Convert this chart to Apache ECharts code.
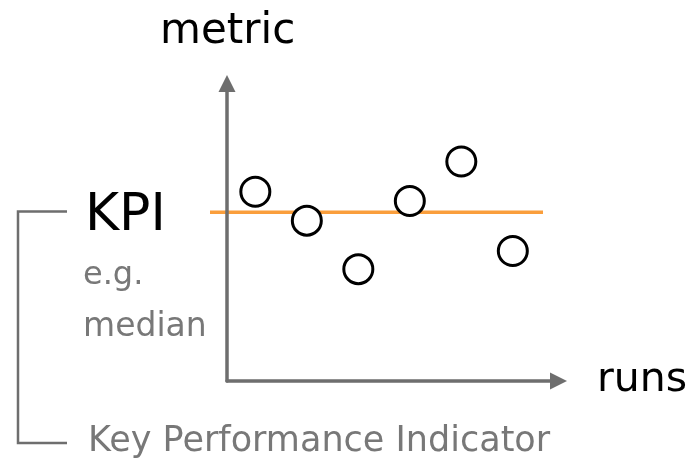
<!DOCTYPE html>
<html>
<head>
<meta charset="utf-8">
<script src="https://cdn.jsdelivr.net/npm/echarts@6/dist/echarts.min.js"></script>
<style>
  html, body { margin: 0; padding: 0; background: #fff; }
  #chart { width: 692px; height: 469px; }
</style>
</head>
<body>
<div id="chart"></div>
<script>
  // runs on x, metric on y (arbitrary units)
  var runs = [1, 2, 3, 4, 5, 6];
  var metric = [6.36, 5.39, 3.76, 6.05, 7.38, 4.37];
  var kpiValue = 5.67;

  var axisGray = '#6e6e6e';
  var textGray = '#787878';
  var font = '"DejaVu Sans", sans-serif';

  var points = runs.map(function (r, i) { return [r, metric[i]]; });
  // the KPI line lives on its own (hidden) 0..1 axis so it can run past the y axis
  var kpiLine = [[0, kpiValue], [1, kpiValue]];

  var chart = echarts.init(document.getElementById('chart'));

  var axisStyle = {
    show: true,
    symbol: ['none', 'triangle'],
    symbolSize: [17, 17],
    lineStyle: { color: axisGray, width: 3.5 }
  };
  var hidden = { show: false };

  chart.setOption({
    animation: false,
    grid: [
      { left: 227, top: 83.5, width: 331.5, height: 297.5 },
      { left: 210, top: 83.5, width: 333, height: 297.5 }
    ],
    xAxis: [
      {
        type: 'value', gridIndex: 0, min: 0.45, max: 6.887,
        axisLine: axisStyle, axisTick: hidden, axisLabel: hidden, splitLine: hidden
      },
      {
        type: 'value', gridIndex: 1, min: 0, max: 1, show: false
      }
    ],
    yAxis: [
      {
        type: 'value', gridIndex: 0, min: 0, max: 10,
        axisLine: axisStyle, axisTick: hidden, axisLabel: hidden, splitLine: hidden, z: 3
      },
      {
        type: 'value', gridIndex: 1, min: 0, max: 10, show: false
      }
    ],
    series: [
      {
        type: 'line',
        xAxisIndex: 1,
        yAxisIndex: 1,
        data: kpiLine,
        symbol: 'none',
        lineStyle: { color: '#fa9e3c', width: 3.5 },
        z: 1
      },
      {
        type: 'scatter',
        xAxisIndex: 0,
        yAxisIndex: 0,
        data: points,
        symbol: 'circle',
        symbolSize: 29,
        itemStyle: { color: '#fff', borderColor: '#000', borderWidth: 3, opacity: 1 },
        z: 4
      }
    ],
    graphic: [
      {
        type: 'polyline',
        shape: { points: [[67, 211.5], [18, 211.5], [18, 443], [67, 443]] },
        style: { stroke: axisGray, lineWidth: 2.5, fill: null }
      },
      { type: 'text', x: 160, y: 32, style: { text: 'metric', font: '42px ' + font, fill: '#000', verticalAlign: 'middle' } },
      { type: 'text', x: 597, y: 380.5, style: { text: 'runs', font: '41px ' + font, fill: '#000', verticalAlign: 'middle' } },
      { type: 'text', x: 85, y: 216, style: { text: 'KPI', font: '52px ' + font, fill: '#000', verticalAlign: 'middle' } },
      { type: 'text', x: 83, y: 276, style: { text: 'e.g.', font: '32px ' + font, fill: textGray, verticalAlign: 'middle' } },
      { type: 'text', x: 83, y: 327, style: { text: 'median', font: '33px ' + font, fill: textGray, verticalAlign: 'middle' } },
      { type: 'text', x: 88, y: 442, style: { text: 'Key Performance Indicator', font: '35px ' + font, fill: textGray, verticalAlign: 'middle' } }
    ]
  });
</script>
</body>
</html>
